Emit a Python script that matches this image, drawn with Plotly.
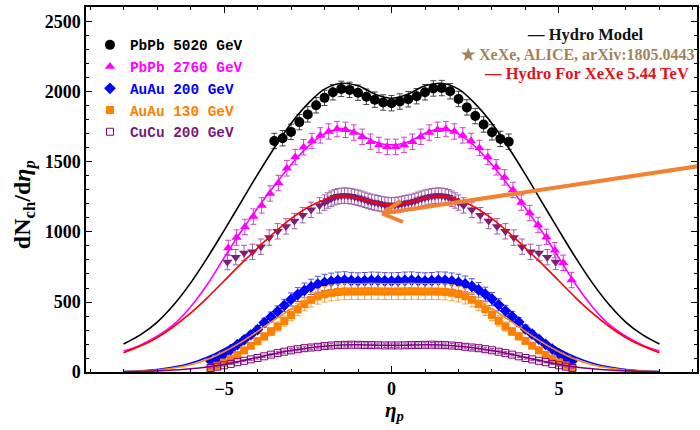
import plotly.graph_objects as go

# ---------------- data ----------------
eta_pbpb5020 = [-3.5, -3.25, -3.0, -2.75, -2.5, -2.25, -2.0, -1.75, -1.5, -1.25, -1.0, -0.75, -0.5, -0.25, 0.0,
                0.25, 0.5, 0.75, 1.0, 1.25, 1.5, 1.75, 2.0, 2.25, 2.5, 2.75, 3.0, 3.25, 3.5]
dn_pbpb5020 = [1650, 1670, 1715, 1785, 1840, 1905, 1958, 1998, 2022, 2015, 1995, 1966, 1945, 1925, 1920,
               1932, 1948, 1970, 1998, 2025, 2028, 2005, 1950, 1890, 1828, 1768, 1712, 1665, 1645]

eta_pbpb2760 = [-4.875, -4.625, -4.375, -4.125, -3.875, -3.625, -3.375, -3.125, -2.875, -2.625, -2.375, -2.125,
                -1.875, -1.625, -1.375, -1.125, -0.875, -0.625, -0.375, -0.125, 0.125, 0.375, 0.625, 0.875,
                1.125, 1.375, 1.625, 1.875, 2.125, 2.375, 2.625, 2.875, 3.125, 3.375, 3.625, 3.875, 4.125,
                4.375, 4.625, 4.875, 5.125, 5.375]
dn_pbpb2760 = [886, 960, 1036, 1110, 1190, 1275, 1350, 1455, 1535, 1605, 1650, 1690,
               1718, 1735, 1730, 1710, 1680, 1645, 1622, 1608, 1608, 1622, 1645, 1680,
               1710, 1730, 1735, 1718, 1690, 1650, 1600, 1535, 1462, 1390, 1300, 1210, 1135,
               1050, 965, 870, 780, 657]

eta_auau = [-5.4, -5.2, -5.0, -4.8, -4.6, -4.4, -4.2, -4.0, -3.8, -3.6, -3.4, -3.2, -3.0, -2.8, -2.6, -2.4,
            -2.2, -2.0, -1.8, -1.6, -1.4, -1.2, -1.0, -0.8, -0.6, -0.4, -0.2, 0.0, 0.2, 0.4, 0.6, 0.8, 1.0,
            1.2, 1.4, 1.6, 1.8, 2.0, 2.2, 2.4, 2.6, 2.8, 3.0, 3.2, 3.4, 3.6, 3.8, 4.0, 4.2, 4.4, 4.6, 4.8,
            5.0, 5.2, 5.4]
dn_auau200 = [80, 100, 126, 160, 195, 230, 266, 303, 352, 393, 433, 476, 518, 553, 583, 608,
              627, 640, 648, 655, 657, 653, 650, 652, 655, 654, 651, 650, 652, 655, 656, 653, 650,
              652, 656, 655, 649, 641, 629, 611, 586, 556, 521, 480, 437, 397, 357, 307, 270, 234, 198, 163,
              129, 103, 80]
dn_auau130 = [30, 45, 67, 94, 121, 154, 187, 221, 254, 289, 324, 364, 407, 447, 485, 515,
              539, 555, 565, 571, 574, 575, 575, 576, 577, 576, 575, 575, 575, 576, 577, 576, 575,
              575, 574, 572, 566, 556, 540, 516, 486, 448, 408, 365, 325, 290, 255, 222, 188, 155, 122, 95,
              68, 46, 30]
dn_cucu200 = [29, 38, 48, 58, 70, 80, 90, 100, 112, 124, 135, 145, 155, 163, 170, 175,
              180, 185, 189, 192, 194, 195, 194, 193, 192, 191, 190, 190, 190, 191, 192, 193, 194,
              195, 194, 192, 189, 185, 180, 175, 170, 163, 155, 145, 135, 124, 112, 100, 90, 80, 70, 58,
              48, 38, 29]

eta_xexe = [-4.9, -4.65, -4.4, -4.15, -3.9, -3.65, -3.4, -3.15, -2.9, -2.65, -2.4, -2.15,
            -2.0, -1.9, -1.8, -1.7, -1.6, -1.5, -1.4, -1.3, -1.2, -1.1, -1.0, -0.9, -0.8, -0.7, -0.6, -0.5,
            -0.4, -0.3, -0.2, -0.1, 0.0, 0.1, 0.2, 0.3, 0.4, 0.5, 0.6, 0.7, 0.8, 0.9, 1.0, 1.1, 1.2, 1.3,
            1.4, 1.5, 1.6, 1.7, 1.8, 1.9, 2.0,
            2.15, 2.4, 2.65, 2.9, 3.15, 3.4, 3.65, 3.9, 4.15, 4.4, 4.65, 4.9]
dn_xexe = [785, 820, 850, 858, 895, 960, 1005, 1040, 1078, 1120, 1158, 1190,
           1210, 1225, 1238, 1248, 1255, 1258, 1260, 1258, 1255, 1250, 1245, 1238, 1230, 1222, 1215, 1210,
           1205, 1200, 1195, 1192, 1190, 1192, 1195, 1200, 1205, 1210, 1215, 1222, 1230, 1238, 1245, 1250,
           1255, 1258, 1260, 1258, 1255, 1248, 1238, 1225, 1210,
           1190, 1158, 1120, 1078, 1040, 1005, 960, 895, 858, 850, 820, 786]

eta_hydro = [-8.0, -7.5, -7.0, -6.5, -6.0, -5.5, -5.0, -4.5, -4.0, -3.5, -3.0, -2.5, -2.0, -1.5, -1.0, -0.5, 0.0,
             0.5, 1.0, 1.5, 2.0, 2.5, 3.0, 3.5, 4.0, 4.5, 5.0, 5.5, 6.0, 6.5, 7.0, 7.5, 8.0]
hydro_pbpb5020 = [200, 265, 355, 480, 635, 815, 1010, 1210, 1410, 1600, 1775, 1915, 2020, 2062, 2045, 1985, 1955,
                  1985, 2045, 2062, 2020, 1915, 1775, 1600, 1410, 1210, 1010, 815, 635, 480, 355, 265, 200]
hydro_pbpb2760 = [150, 192, 255, 340, 465, 625, 815, 1000, 1170, 1330, 1480, 1610, 1700, 1738, 1705, 1645, 1622,
                  1645, 1705, 1738, 1700, 1610, 1480, 1330, 1170, 1000, 815, 625, 465, 340, 255, 192, 150]
hydro_xexe = [138, 185, 245, 325, 420, 530, 650, 770, 885, 995, 1095, 1175, 1230, 1255, 1242, 1210, 1195,
              1210, 1242, 1255, 1230, 1175, 1095, 995, 885, 770, 650, 530, 420, 325, 245, 185, 138]
hydro_auau200 = [4, 9, 18, 35, 62, 105, 163, 235, 320, 415, 510, 590, 638, 658, 657, 652, 650,
                 652, 657, 658, 638, 590, 510, 415, 320, 235, 163, 105, 62, 35, 18, 9, 4]
hydro_auau130 = [2, 6, 14, 28, 52, 90, 145, 212, 290, 372, 450, 518, 563, 583, 585, 581, 579,
                 581, 585, 583, 563, 518, 450, 372, 290, 212, 145, 90, 52, 28, 14, 6, 2]
hydro_cucu200 = [2, 4, 8, 14, 23, 36, 54, 78, 104, 130, 153, 171, 184, 193, 195, 192, 190,
                 192, 195, 193, 184, 171, 153, 130, 104, 78, 54, 36, 23, 14, 8, 4, 2]

x_ticks = [-5, 0, 5]
y_ticks = [0, 500, 1000, 1500, 2000, 2500]

# ---------------- layout constants ----------------
W, H = 700, 430
ML, MR, MT, MB = 86, 1, 7, 58
PW, PH = W - ML - MR, H - MT - MB
XR = [-9.12, 9.12]
YR = [0, 2607]


def px2x(px):
    return XR[0] + (px - ML) / PW * (XR[1] - XR[0])


def py2y(py):
    return YR[1] - (py - MT) / PH * (YR[1] - YR[0])


def pxp(px):
    return (px - ML) / PW


def pyp(py):
    return 1 - (py - MT) / PH


serif = "Liberation Serif"
mono = "Liberation Mono"


def lab(text, color):
    return f'<span style="color:{color}"><b>{text}</b></span>'


fig = go.Figure()

# data points
fig.add_trace(go.Scatter(x=eta_pbpb5020, y=dn_pbpb5020, mode="markers", name=lab("PbPb 5020 GeV", "#000000"),
                         marker=dict(symbol="circle", size=10, color="#000000"),
                         error_y=dict(type="constant", value=55, color="#444444", thickness=1, width=3)))
fig.add_trace(go.Scatter(x=eta_pbpb2760, y=dn_pbpb2760, mode="markers", name=lab("PbPb 2760 GeV", "#ff00ff"),
                         marker=dict(symbol="triangle-up", size=9, color="#ff00ff"),
                         error_y=dict(type="constant", value=55, color="#d040d0", thickness=1, width=3)))
fig.add_trace(go.Scatter(x=eta_auau, y=dn_auau200, mode="markers", name=lab("AuAu 200 GeV", "#0000ff"),
                         marker=dict(symbol="diamond", size=9, color="#0000ff"),
                         error_y=dict(type="percent", value=9, color="#5a50d8", thickness=1, width=3)))
fig.add_trace(go.Scatter(x=eta_auau, y=dn_auau130, mode="markers", name=lab("AuAu 130 GeV", "#ff8000"),
                         marker=dict(symbol="square", size=8, color="#ff8000"),
                         error_y=dict(type="percent", value=10, color="#f3a040", thickness=1, width=3)))
fig.add_trace(go.Scatter(x=eta_auau, y=dn_cucu200, mode="markers", name=lab("CuCu 200 GeV", "#7a1a7a"),
                         marker=dict(symbol="square-open", size=7, color="#800080", line=dict(width=1)),
                         error_y=dict(type="percent", value=8, color="#a050a0", thickness=1, width=2)))
fig.add_trace(go.Scatter(x=eta_xexe, y=dn_xexe, mode="markers", showlegend=False,
                         marker=dict(symbol="triangle-down", size=9, color="#7a1f7a"),
                         error_y=dict(type="constant", value=55, color="#a060a8", thickness=1, width=3)))

# hydro curves
for yv, col in [(hydro_pbpb5020, "#000000"), (hydro_pbpb2760, "#ff00ff"), (hydro_auau200, "#0000ff"),
                (hydro_auau130, "#ff8c00"), (hydro_cucu200, "#800080"), (hydro_xexe, "#ff0000")]:
    fig.add_trace(go.Scatter(x=eta_hydro, y=yv, mode="lines", showlegend=False,
                             line=dict(color=col, width=1.6, shape="spline", smoothing=1.0)))

# orange arrow (decoration)
arrow_col = "#f08232"
tip = (383, 213.5)
shapes = [
    dict(type="line", xref="x", yref="y", x0=px2x(tip[0]), y0=py2y(tip[1]), x1=px2x(705), y1=py2y(165.5),
         line=dict(color=arrow_col, width=4)),
    dict(type="line", xref="x", yref="y", x0=px2x(tip[0]), y0=py2y(tip[1]), x1=px2x(402), y1=py2y(201),
         line=dict(color=arrow_col, width=4)),
    dict(type="line", xref="x", yref="y", x0=px2x(tip[0]), y0=py2y(tip[1]), x1=px2x(404), y1=py2y(222),
         line=dict(color=arrow_col, width=4)),
]

annotations = [
    dict(text="dN<sub>ch</sub>/d<i>η</i><sub><i>p</i></sub>", xref="paper", yref="paper",
         x=pxp(24), y=pyp(205), xanchor="center", yanchor="middle", textangle=-90, showarrow=False,
         font=dict(family=serif, size=24, color="#000000", weight="bold")),
    dict(text="<i>η</i><sub><i>p</i></sub>", xref="paper", yref="paper",
         x=pxp(396), y=pyp(411), xanchor="center", yanchor="middle", showarrow=False,
         font=dict(family=serif, size=21, color="#000000", weight="bold")),
    dict(text="— Hydro Model", xref="paper", yref="paper", x=pxp(526), y=pyp(34),
         xanchor="left", yanchor="middle", showarrow=False,
         font=dict(family=serif, size=16.5, color="#111111", weight="bold")),
    dict(text="★ XeXe, ALICE, arXiv:1805.0443", xref="paper", yref="paper", x=pxp(699), y=pyp(54),
         xanchor="right", yanchor="middle", showarrow=False,
         font=dict(family=serif, size=16, color="#a3835a", weight="bold")),
    dict(text="— Hydro For XeXe 5.44 TeV", xref="paper", yref="paper", x=pxp(483), y=pyp(73),
         xanchor="left", yanchor="middle", showarrow=False,
         font=dict(family=serif, size=16.5, color="#e8101a", weight="bold")),
]

axis_common = dict(showline=True, linecolor="#000000", linewidth=1.5, mirror="ticks", ticks="inside",
                   tickcolor="#000000", showgrid=False, zeroline=False,
                   tickfont=dict(family=serif, size=18, color="#000000", weight="bold"))

fig.update_layout(
    width=W, height=H,
    margin=dict(l=ML, r=MR, t=MT, b=MB, pad=0),
    paper_bgcolor="white", plot_bgcolor="white",
    xaxis=dict(range=XR, tickvals=x_ticks, ticktext=["−5", "0", "5"], ticklen=6, tickwidth=1,
               minor=dict(dtick=1, tick0=0, ticklen=3, ticks="inside", tickcolor="#000000"),
               **axis_common),
    yaxis=dict(range=YR, tickvals=y_ticks, ticklen=6, tickwidth=1,
               minor=dict(dtick=100, tick0=0, ticklen=3, ticks="inside", tickcolor="#000000"),
               **axis_common),
    legend=dict(x=pxp(90), y=pyp(29), xanchor="left", yanchor="top", bgcolor="rgba(0,0,0,0)",
                font=dict(family=mono, size=14.4, color="#000000"), itemwidth=30, tracegroupgap=0),
    shapes=shapes,
    annotations=annotations,
    showlegend=True,
)

fig.write_html("out.html")
